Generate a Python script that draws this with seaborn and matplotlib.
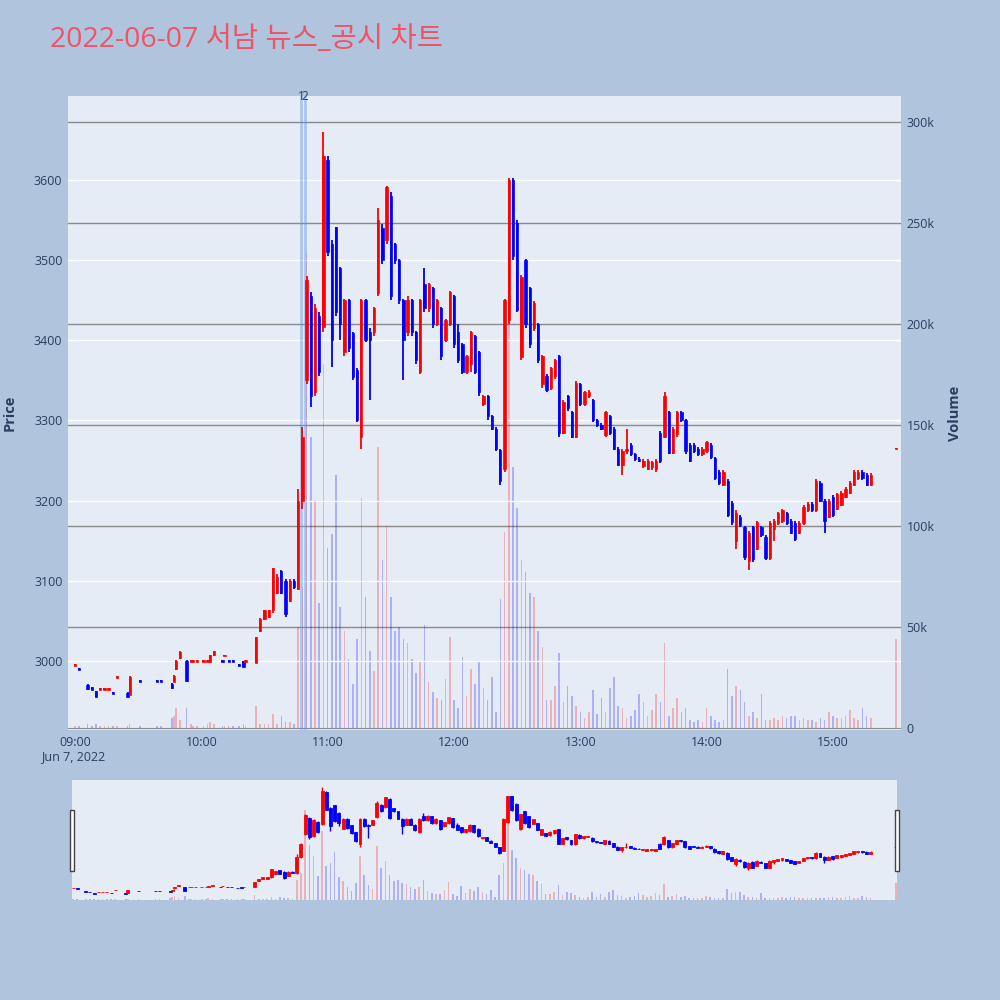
import numpy as np
import pandas as pd
import matplotlib
matplotlib.use("Agg")
import matplotlib.pyplot as plt
import seaborn as sns
from matplotlib.patches import Rectangle

# minute candles (2-minute sampling in the busy part of the session)
times = [
    "09:00", "09:02", "09:06", "09:08", "09:10", "09:12", "09:14", "09:16", "09:18", "09:20",
    "09:25", "09:26", "09:31", "09:39", "09:41", "09:46", "09:47", "09:48", "09:50", "09:53",
    "09:55", "09:56", "09:58", "10:01", "10:03", "10:04", "10:06", "10:10", "10:11", "10:13",
    "10:15", "10:18", "10:20", "10:21",
    "10:26", "10:28", "10:30", "10:32", "10:34", "10:36", "10:38", "10:40", "10:42", "10:44",
    "10:46", "10:48", "10:50", "10:52", "10:54", "10:56", "10:58", "11:00", "11:02", "11:04",
    "11:06", "11:08", "11:10", "11:12", "11:14", "11:16", "11:18", "11:20", "11:22", "11:24",
    "11:26", "11:28", "11:30", "11:32", "11:34", "11:36", "11:38", "11:40", "11:42", "11:44",
    "11:46", "11:48", "11:50", "11:52", "11:54", "11:56", "11:58", "12:00", "12:02", "12:04",
    "12:06", "12:08", "12:10", "12:12", "12:14", "12:16", "12:18", "12:20", "12:22", "12:24",
    "12:26", "12:28", "12:30", "12:32", "12:34", "12:36", "12:38", "12:40", "12:42", "12:44",
    "12:46", "12:48", "12:50", "12:52", "12:54", "12:56", "12:58", "13:00", "13:02", "13:04",
    "13:06", "13:08", "13:10", "13:12", "13:14", "13:16", "13:18", "13:20", "13:22", "13:24",
    "13:26", "13:28", "13:30", "13:32", "13:34", "13:36", "13:38", "13:40", "13:42", "13:44",
    "13:46", "13:48", "13:50", "13:52", "13:54", "13:56", "13:58", "14:00", "14:02", "14:04",
    "14:06", "14:08", "14:10", "14:12", "14:14", "14:16", "14:18", "14:20", "14:22", "14:24",
    "14:26", "14:28", "14:30", "14:32", "14:34", "14:36", "14:38", "14:40", "14:42", "14:44",
    "14:46", "14:48", "14:50", "14:52", "14:54", "14:56", "14:58", "15:00", "15:02", "15:04",
    "15:06", "15:08", "15:10", "15:12", "15:14", "15:16", "15:18", "15:30",
]
opens = [
    2994, 2991, 2970, 2967, 2962, 2964, 2964, 2964, 2961, 2979,
    2960, 2957, 2976, 2976, 2976, 2971, 2974, 2990, 3004, 3000,
    2999, 2999, 2999, 2999, 2999, 2999, 3007, 3001, 3006, 3001,
    3001, 2996, 3000, 2999,
    2998, 3037, 3052, 3055, 3064, 3085, 3112, 3100, 3075, 3100,
    3090, 3200, 3350, 3455, 3335, 3430, 3417, 3625, 3520, 3541,
    3490, 3385, 3450, 3409, 3363, 3280, 3450, 3410, 3410, 3459,
    3540, 3525, 3580, 3520, 3500, 3450, 3410, 3450, 3410, 3360,
    3470, 3440, 3465, 3420, 3440, 3400, 3420, 3455, 3410, 3395,
    3360, 3370, 3405, 3385, 3320, 3330, 3305, 3290, 3263, 3240,
    3425, 3600, 3546, 3379, 3500, 3465, 3415, 3420, 3345, 3356,
    3340, 3355, 3380, 3285, 3330, 3310, 3280, 3345, 3320, 3330,
    3325, 3300, 3295, 3282, 3305, 3290, 3265, 3245, 3262, 3270,
    3258, 3252, 3243, 3240, 3242, 3240, 3285, 3280, 3310, 3260,
    3283, 3310, 3300, 3270, 3270, 3265, 3258, 3262, 3270, 3253,
    3236, 3220, 3225, 3197, 3150, 3180, 3167, 3125, 3167, 3140,
    3167, 3155, 3128, 3165, 3172, 3175, 3184, 3175, 3172, 3160,
    3172, 3188, 3196, 3188, 3222, 3200, 3180, 3205, 3190, 3195,
    3205, 3210, 3220, 3228, 3236, 3232, 3220, 3264,
]
closes = [
    2996, 2989, 2965, 2964, 2955, 2966, 2966, 2966, 2959, 2981,
    2955, 2980, 2974, 2974, 2974, 2966, 2981, 3000, 3011, 2975,
    3001, 3001, 3001, 3001, 3001, 3007, 3012, 2999, 3008, 2999,
    2999, 2994, 2993, 3001,
    3030, 3052, 3063, 3063, 3116, 3105, 3085, 3058, 3100, 3092,
    3200, 3280, 3475, 3330, 3440, 3360, 3630, 3510, 3400, 3435,
    3420, 3450, 3390, 3354, 3300, 3450, 3400, 3400, 3440, 3550,
    3500, 3591, 3455, 3500, 3450, 3400, 3450, 3410, 3375, 3450,
    3440, 3470, 3420, 3450, 3380, 3425, 3460, 3395, 3375, 3360,
    3380, 3410, 3360, 3335, 3330, 3305, 3290, 3265, 3225, 3450,
    3600, 3505, 3438, 3479, 3420, 3395, 3447, 3375, 3380, 3338,
    3365, 3375, 3285, 3323, 3315, 3280, 3347, 3320, 3335, 3336,
    3300, 3295, 3290, 3310, 3285, 3265, 3245, 3262, 3265, 3258,
    3252, 3250, 3250, 3250, 3248, 3250, 3250, 3330, 3260, 3290,
    3310, 3300, 3262, 3250, 3262, 3258, 3265, 3273, 3255, 3228,
    3222, 3236, 3182, 3173, 3185, 3170, 3130, 3160, 3127, 3173,
    3157, 3128, 3172, 3175, 3184, 3188, 3172, 3160, 3152, 3172,
    3192, 3196, 3188, 3225, 3200, 3175, 3200, 3182, 3208, 3210,
    3215, 3222, 3236, 3236, 3228, 3220, 3232, 3266,
]
highs = [
    2996, 2991, 2971, 2967, 2962, 2966, 2966, 2966, 2961, 2981,
    2961, 2981, 2976, 2976, 2976, 2972, 2982, 3001, 3012, 3001,
    3001, 3001, 3001, 3001, 3001, 3008, 3013, 3001, 3008, 3001,
    3001, 2996, 3000, 3001,
    3030, 3053, 3064, 3064, 3116, 3108, 3114, 3102, 3102, 3102,
    3215, 3292, 3480, 3460, 3445, 3435, 3660, 3630, 3525, 3542,
    3492, 3452, 3452, 3411, 3365, 3452, 3452, 3415, 3442, 3565,
    3545, 3593, 3585, 3522, 3502, 3452, 3455, 3452, 3412, 3452,
    3490, 3472, 3467, 3452, 3442, 3427, 3462, 3457, 3420, 3397,
    3382, 3412, 3407, 3387, 3332, 3332, 3307, 3292, 3265, 3452,
    3602, 3602, 3550, 3482, 3502, 3467, 3449, 3422, 3382, 3358,
    3367, 3377, 3382, 3325, 3332, 3312, 3349, 3347, 3337, 3338,
    3327, 3302, 3297, 3312, 3307, 3292, 3267, 3264, 3290, 3272,
    3260, 3254, 3252, 3252, 3250, 3252, 3287, 3335, 3312, 3292,
    3312, 3312, 3302, 3272, 3272, 3267, 3267, 3275, 3272, 3255,
    3238, 3238, 3227, 3199, 3188, 3182, 3169, 3162, 3169, 3175,
    3169, 3157, 3175, 3177, 3186, 3190, 3186, 3177, 3174, 3174,
    3194, 3198, 3198, 3227, 3224, 3202, 3202, 3207, 3210, 3212,
    3217, 3224, 3238, 3238, 3238, 3234, 3234, 3266,
]
lows = [
    2994, 2989, 2964, 2964, 2955, 2964, 2964, 2964, 2959, 2979,
    2955, 2957, 2974, 2974, 2974, 2965, 2974, 2989, 3003, 2974,
    2999, 2999, 2999, 2999, 2999, 2999, 3006, 2999, 3006, 2999,
    2999, 2994, 2993, 2999,
    2998, 3036, 3051, 3054, 3060, 3084, 3083, 3055, 3073, 3090,
    3088, 3190, 3345, 3317, 3330, 3355, 3410, 3505, 3367, 3430,
    3400, 3380, 3385, 3350, 3298, 3265, 3398, 3325, 3405, 3455,
    3495, 3520, 3450, 3495, 3445, 3350, 3405, 3405, 3370, 3358,
    3435, 3435, 3415, 3418, 3375, 3398, 3418, 3390, 3372, 3358,
    3358, 3360, 3358, 3330, 3318, 3300, 3288, 3262, 3220, 3236,
    3420, 3500, 3435, 3375, 3415, 3390, 3412, 3372, 3340, 3335,
    3338, 3352, 3280, 3283, 3312, 3278, 3278, 3318, 3318, 3328,
    3298, 3292, 3288, 3280, 3282, 3263, 3243, 3232, 3258, 3256,
    3250, 3248, 3241, 3238, 3238, 3236, 3247, 3278, 3258, 3258,
    3280, 3298, 3258, 3248, 3260, 3256, 3256, 3260, 3252, 3226,
    3220, 3218, 3180, 3170, 3140, 3167, 3126, 3113, 3124, 3138,
    3155, 3126, 3126, 3150, 3170, 3172, 3170, 3158, 3150, 3158,
    3170, 3186, 3186, 3186, 3198, 3160, 3178, 3180, 3188, 3193,
    3203, 3208, 3218, 3226, 3226, 3218, 3218, 3264,
]
volumes_k = [
    1, 1, 2, 1, 2, 1, 1, 1, 1, 1,
    1, 2, 1, 1, 1, 5, 6, 10, 4, 10,
    2, 1, 1, 1, 2, 3, 2, 1, 1, 1,
    1, 1, 2, 1,
    11, 2, 2, 2, 7, 2, 6, 3, 3, 2,
    50, 70, 235, 144, 113, 62, 180, 89, 96, 125,
    60, 48, 34, 22, 44, 114, 65, 38, 28, 139,
    83, 100, 65, 48, 50, 44, 42, 34, 27, 33,
    51, 23, 18, 15, 14, 24, 45, 14, 10, 35,
    16, 29, 22, 33, 20, 14, 25, 8, 64, 97,
    208, 129, 109, 83, 77, 67, 65, 48, 40, 14,
    14, 21, 37, 13, 21, 16, 11, 8, 5, 8,
    19, 7, 15, 8, 20, 25, 11, 10, 5, 6,
    9, 17, 13, 6, 9, 17, 13, 42, 6, 10,
    15, 8, 10, 4, 3, 4, 3, 10, 6, 4,
    3, 4, 29, 16, 21, 19, 13, 6, 8, 5,
    17, 4, 4, 5, 4, 6, 5, 6, 6, 4,
    5, 4, 4, 3, 5, 4, 8, 6, 5, 5,
    6, 9, 5, 4, 10, 6, 5, 44,
]

news_times = ["10:47:20", "10:49:20"]
news_labels = ["1", "2"]

price_ticks = [3000, 3100, 3200, 3300, 3400, 3500, 3600]
volume_ticks = [0, 50000, 100000, 150000, 200000, 250000, 300000]
volume_labels = ["0", "50k", "100k", "150k", "200k", "250k", "300k"]
hour_labels = ["09:00", "10:00", "11:00", "12:00", "13:00", "14:00", "15:00"]

title = "2022-06-07 서남 뉴스_공시 차트"

UP = "#ff0000"
DOWN = "#0000ff"
TXT = "#2a3f5f"


def to_minutes(s):
    parts = [int(p) for p in s.split(":")]
    m = (parts[0] - 9) * 60 + parts[1]
    if len(parts) > 2:
        m += parts[2] / 60
    return m


df = pd.DataFrame({"time": times, "open": opens, "close": closes,
                   "high": highs, "low": lows, "volume": np.array(volumes_k) * 1000})
df["minute"] = df["time"].map(to_minutes)
df["dir"] = np.where(df["close"] >= df["open"], "up", "down")

sns.set_theme(style="white")
plt.rcParams["font.family"] = ["Open Sans", "Noto Sans CJK KR", "DejaVu Sans"]


def draw(ax_vol, ax_price, wick_lw, edge_lw, body_w):
    sns.histplot(data=df, x="minute", weights="volume", hue="dir",
                 hue_order=["up", "down"], palette={"up": UP, "down": DOWN},
                 binwidth=1, binrange=(-0.5, 391.5), shrink=0.75, alpha=0.25,
                 linewidth=0, legend=False, ax=ax_vol)
    col = np.where(df["dir"] == "up", UP, DOWN)
    ax_price.vlines(df["minute"], df["low"], df["high"], colors=col,
                    linewidth=wick_lw, zorder=3)
    ax_price.bar(df["minute"], (df["close"] - df["open"]).abs(),
                 bottom=df[["open", "close"]].min(axis=1), width=body_w,
                 color=col, edgecolor=col, linewidth=edge_lw, zorder=4)
    ax_vol.set_ylim(-1000, 312800)
    ax_price.set_ylim(2913.9, 3704.8)
    for a in (ax_vol, ax_price):
        for sp in a.spines.values():
            sp.set_visible(False)
        a.set_xlabel("")
        a.set_ylabel("")


fig = plt.figure(figsize=(10, 10), dpi=100)
fig.patch.set_facecolor("#b0c4de")

# main chart: volume behind, price on top
ax_vol = fig.add_axes([0.068, 0.27, 0.833, 0.634])
ax_vol.set_facecolor("#e5ecf6")
ax_price = ax_vol.twinx()
draw(ax_vol, ax_price, wick_lw=1.3, edge_lw=0.5, body_w=1.1)
ax_vol.set_xlim(-3.3, 392.3)

ax_vol.set_yticks(volume_ticks, volume_labels)
ax_vol.yaxis.tick_right()
ax_vol.grid(axis="y", color="#8a8a8a", linewidth=1)
ax_vol.grid(axis="x", visible=False)
ax_vol.axhline(0, color="white", linewidth=2, zorder=0.5)
ax_vol.set_axisbelow(True)

ax_price.yaxis.tick_left()
ax_price.set_yticks(price_ticks, [str(p) for p in price_ticks])
ax_price.grid(axis="y", color="white", linewidth=1, zorder=0)
ax_price.set_axisbelow(True)

ax_vol.set_xticks([0, 60, 120, 180, 240, 300, 360], hour_labels)
ax_vol.tick_params(axis="x", length=0, pad=4, labelsize=9, labelcolor=TXT)
ax_vol.tick_params(axis="y", length=0, pad=4, labelsize=9, labelcolor=TXT)
ax_price.tick_params(axis="y", length=0, pad=4, labelsize=9, labelcolor=TXT)

for t, lab in zip(news_times, news_labels):
    m = to_minutes(t)
    ax_price.axvline(m, color="cornflowerblue", alpha=0.45, linewidth=2, zorder=2)
    ax_price.text(m, 1.0, lab, transform=ax_price.get_xaxis_transform(),
                  ha="center", va="center", fontsize=8.5, color=TXT)

fig.text(0.073, 0.243, "Jun 7, 2022", ha="center", va="center", fontsize=9, color=TXT)
fig.text(0.01, 0.587, "Price", rotation=90, ha="center", va="center",
         fontsize=10.5, fontweight="bold", color=TXT)
fig.text(0.955, 0.587, "Volume", rotation=90, ha="center", va="center",
         fontsize=10.5, fontweight="bold", color=TXT)
fig.text(0.05, 0.96, title, ha="left", va="center", fontsize=20.5, color="#ef5366")

# range slider
sl_vol = fig.add_axes([0.072, 0.1, 0.825, 0.12])
sl_vol.set_facecolor("#e5ecf6")
sl_price = sl_vol.twinx()
draw(sl_vol, sl_price, wick_lw=1.0, edge_lw=0.6, body_w=1.4)
sl_vol.set_xlim(-0.5, 390.5)
for a in (sl_vol, sl_price):
    a.set_xticks([])
    a.set_yticks([])
    a.grid(False)

for x0 in (0.0695, 0.895):
    fig.patches.append(Rectangle((x0, 0.129), 0.004, 0.061, transform=fig.transFigure,
                                 facecolor="white", edgecolor="#444444", linewidth=1))

fig.savefig("out.png", dpi=100, facecolor=fig.get_facecolor())
